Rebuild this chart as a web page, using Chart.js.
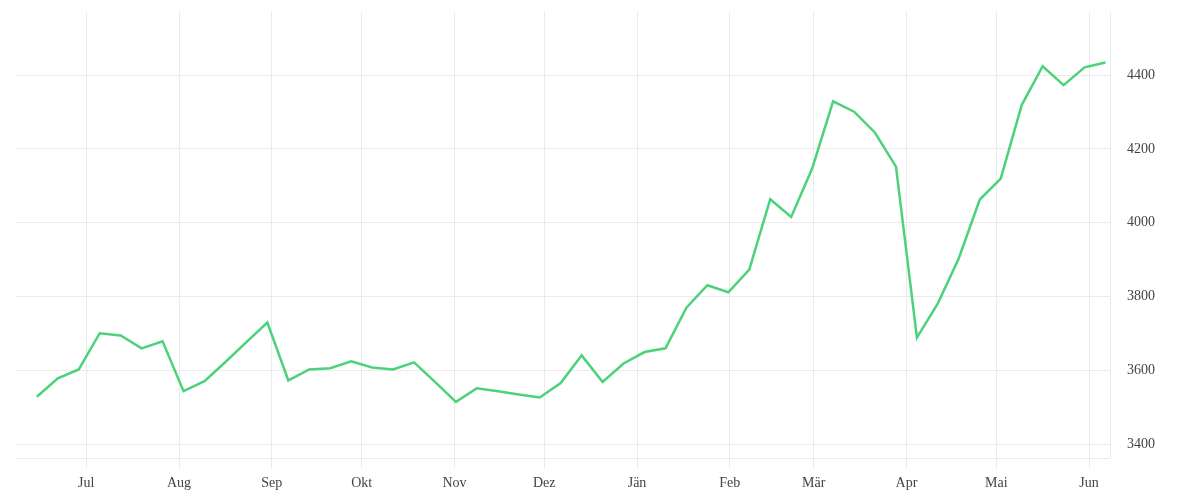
<!DOCTYPE html>
<html>
<head>
<meta charset="utf-8">
<script src="https://cdn.jsdelivr.net/npm/chart.js@4/dist/chart.umd.min.js"></script>
<style>
  html, body { margin: 0; padding: 0; background: #fff; }
  #wrap { width: 1200px; height: 500px; position: relative; }
</style>
</head>
<body>
<div id="wrap"><canvas id="priceChart"></canvas></div>
<script>
// weekly dates (taken at noon)
const dates = [
    '2022-06-14', '2022-06-21', '2022-06-28', '2022-07-05', '2022-07-12', '2022-07-19', '2022-07-26',
    '2022-08-02', '2022-08-09', '2022-08-16', '2022-08-23', '2022-08-30', '2022-09-06', '2022-09-13',
    '2022-09-20', '2022-09-27', '2022-10-04', '2022-10-11', '2022-10-18', '2022-10-25', '2022-11-01',
    '2022-11-08', '2022-11-15', '2022-11-22', '2022-11-29', '2022-12-06', '2022-12-13', '2022-12-20',
    '2022-12-27', '2023-01-03', '2023-01-10', '2023-01-17', '2023-01-24', '2023-01-31', '2023-02-07',
    '2023-02-14', '2023-02-21', '2023-02-28', '2023-03-07', '2023-03-14', '2023-03-21', '2023-03-28',
    '2023-04-04', '2023-04-11', '2023-04-18', '2023-04-25', '2023-05-02', '2023-05-09', '2023-05-16',
    '2023-05-23', '2023-05-30', '2023-06-06'
];

const values = [
    3529, 3579, 3603, 3701, 3695, 3660, 3679, 3544, 3571, 3623, 3677, 3730, 3573, 3603,
    3606, 3625, 3608, 3603, 3622, 3569, 3515, 3552, 3544, 3535, 3527,
    3566, 3641, 3569, 3619, 3650, 3660, 3770, 3831, 3812, 3873,
    4064, 4016, 4147, 4329, 4301, 4244, 4152, 3689,
    3782, 3904, 4063, 4120, 4319, 4424, 4373, 4421, 4434
];

const monthStarts = [
    '2022-07-01', '2022-08-01', '2022-09-01', '2022-10-01', '2022-11-01', '2022-12-01',
    '2023-01-01', '2023-02-01', '2023-03-01', '2023-04-01', '2023-05-01', '2023-06-01'
];
const monthLabels = ['Jul', 'Aug', 'Sep', 'Okt', 'Nov', 'Dez', 'Jän', 'Feb', 'Mär', 'Apr', 'Mai', 'Jun'];

const yTicks = [3400, 3600, 3800, 4000, 4200, 4400];

const DAY = 86400000;
const origin = Date.UTC(2022, 6, 1);

function dayNum(str, hour) {
    const p = str.split('-').map(Number);
    return (Date.UTC(p[0], p[1] - 1, p[2], hour || 0) - origin) / DAY;
}

const points = dates.map((d, i) => ({ x: dayNum(d, 12), y: values[i] }));
const monthDays = monthStarts.map(m => dayNum(m));

const gridColor = '#ebebeb';
const font = { family: '"Liberation Serif", "DejaVu Serif", serif', size: 14 };

new Chart('priceChart', {
    type: 'line',
    data: {
        datasets: [{
            data: points,
            borderColor: '#4cd27b',
            borderWidth: 2.5,
            pointRadius: 0,
            tension: 0,
            fill: false
        }]
    },
    options: {
        responsive: true,
        maintainAspectRatio: false,
        animation: false,
        layout: { padding: { left: 15, top: 12, right: 0, bottom: 0 } },
        plugins: {
            legend: { display: false },
            tooltip: { enabled: false }
        },
        scales: {
            x: {
                type: 'linear',
                min: -23.8,
                max: 342,
                grid: { color: gridColor, drawTicks: true, tickLength: 10 },
                border: { display: true, color: gridColor },
                afterBuildTicks: (scale) => {
                    scale.ticks = monthDays.map(v => ({ value: v }));
                },
                afterFit: (scale) => {
                    scale.height = 42;
                    scale.paddingLeft = 0;
                    scale.paddingRight = 0;
                },
                ticks: {
                    autoSkip: false,
                    maxRotation: 0,
                    padding: 7,
                    color: '#444',
                    font: font,
                    callback: (value) => {
                        const i = monthDays.indexOf(value);
                        return i >= 0 ? monthLabels[i] : '';
                    }
                }
            },
            y: {
                position: 'right',
                min: 3363,
                max: 4571,
                grid: { color: gridColor, drawTicks: false },
                border: { display: true, color: gridColor },
                afterBuildTicks: (scale) => {
                    scale.ticks = yTicks.map(v => ({ value: v }));
                },
                afterFit: (scale) => {
                    scale.width = 90;
                    scale.paddingTop = 0;
                    scale.paddingBottom = 0;
                },
                ticks: {
                    padding: 17,
                    color: '#444',
                    font: font,
                    callback: (value) => String(value)
                }
            }
        }
    }
});
</script>
</body>
</html>
